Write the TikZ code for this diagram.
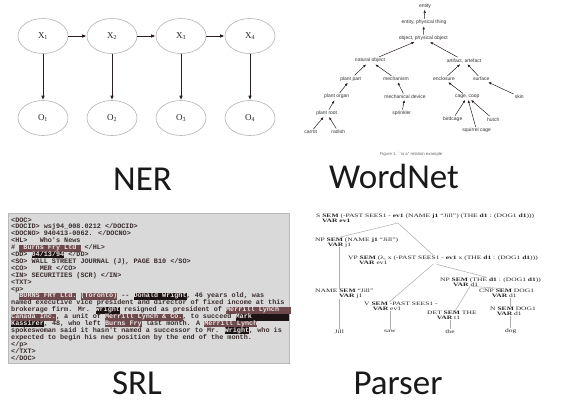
\documentclass[tikz,border=0pt]{standalone}
\usepackage{fontspec}
\setmainfont{Liberation Serif}
\newfontfamily\labfont{Carlito}
\newfontfamily\srlfont{Liberation Mono}
\newfontfamily\wnfont{Liberation Sans}
\newfontfamily\psfont[FakeStretch=1.45]{Liberation Serif}
\usetikzlibrary{shapes.geometric,arrows.meta,calc}
\definecolor{hmmgray}{HTML}{B4B4B4}
\definecolor{arrowdark}{HTML}{2B1E1E}
\definecolor{hlbrown}{HTML}{6E4A4D}
\definecolor{hlblack}{HTML}{1C1414}
\definecolor{srltext}{HTML}{3A2D2D}
\definecolor{srlbg}{HTML}{D9D9D9}
\definecolor{hltext}{HTML}{EDE3E3}
\newcommand\hb[1]{{\setlength\fboxsep{0pt}\colorbox{hlbrown}{\rule[-1.9pt]{0pt}{6.9pt}\textcolor{hltext}{#1}}}}
\newcommand\hk[1]{{\setlength\fboxsep{0pt}\colorbox{hlblack}{\rule[-1.9pt]{0pt}{6.9pt}\textcolor{hltext}{#1}}}}
\begin{document}
\begin{tikzpicture}[x=1pt,y=-1pt,
  hmmnode/.style={ellipse, draw=hmmgray, line width=0.6pt, minimum width=50pt, minimum height=35pt, inner sep=0pt, font=\fontsize{9}{10}\selectfont, text=black!85},
  hmmarrow/.style={draw=arrowdark, line width=0.9pt, -{Latex[length=4.5pt,width=3.5pt]}},
  biglabel/.style={font=\labfont\fontsize{35}{38}\selectfont, text=black!90, anchor=base, inner sep=0pt},
  wnnode/.style={font=\wnfont\fontsize{5}{6}\selectfont, text=black!80, inner sep=1.2pt},
  wnarrow/.style={draw=arrowdark, line width=0.5pt, -{Latex[length=3pt,width=2.5pt]}},
  srlline/.style={anchor=base west, inner sep=0pt, font=\srlfont\bfseries\fontsize{6.8}{6.9}\selectfont, text=srltext},
  psnode/.style={anchor=north west, inner sep=0pt, align=left, font=\psfont\fontsize{5.2}{4.9}\selectfont, text=black!85},
  psleaf/.style={inner sep=0.8pt, font=\psfont\fontsize{5.2}{4.9}\selectfont, text=black!85},
  psline/.style={draw=gray!65, line width=0.5pt}]
\useasboundingbox (0,0) rectangle (563,402);
\fill[white] (0,0) rectangle (563,402);

% ---------------- NER ----------------
\node[hmmnode] (x1) at (43,36) {X\textsubscript{1}};
\node[hmmnode] (x2) at (112,36) {X\textsubscript{2}};
\node[hmmnode] (x3) at (181,36) {X\textsubscript{3}};
\node[hmmnode] (x4) at (250,36) {X\textsubscript{4}};
\node[hmmnode] (o1) at (43,118) {O\textsubscript{1}};
\node[hmmnode] (o2) at (112,118) {O\textsubscript{2}};
\node[hmmnode] (o3) at (181,118) {O\textsubscript{3}};
\node[hmmnode] (o4) at (250,118) {O\textsubscript{4}};
\draw[hmmarrow] (x1) -- (x2);
\draw[hmmarrow] (x2) -- (x3);
\draw[hmmarrow] (x3) -- (x4);
\draw[hmmarrow] (x1) -- (o1);
\draw[hmmarrow] (x2) -- (o2);
\draw[hmmarrow] (x3) -- (o3);
\draw[hmmarrow] (x4) -- (o4);

% ---------------- WordNet ----------------
\node[wnnode] (entity) at (425,6) {entity};
\node[wnnode] (phys) at (424,22.7) {entity, physical thing};
\node[wnnode] (object) at (423.3,38.3) {object, physical object};
\node[wnnode] (natobj) at (370,60.7) {natural object};
\node[wnnode] (artifact) at (464,60.7) {artifact, artefact};
\node[wnnode] (plantpart) at (350.7,79) {plant part};
\node[wnnode] (mechanism) at (396,79) {mechanism};
\node[wnnode] (enclosure) at (444,79) {enclosure};
\node[wnnode] (surface) at (481.3,79) {surface};
\node[wnnode] (plantorgan) at (336.7,96.7) {plant organ};
\node[wnnode] (mechdev) at (405,96.7) {mechanical device};
\node[wnnode] (cage) at (467.3,96.7) {cage, coop};
\node[wnnode] (skin) at (519.3,96.7) {skin};
\node[wnnode] (plantroot) at (326.7,113.3) {plant root};
\node[wnnode] (sprinkler) at (401.7,113.3) {sprinkler};
\node[wnnode] (birdcage) at (452.7,119.3) {birdcage};
\node[wnnode] (hutch) at (493.3,119.3) {hutch};
\node[wnnode] (squirrel) at (476.7,130.7) {squirrel cage};
\node[wnnode] (carrot) at (310.7,132.3) {carrot};
\node[wnnode] (radish) at (338.3,131.7) {radish};
\node[wnnode, font=\wnfont\fontsize{4.3}{5}\selectfont, text=black!60] (caption) at (411,154) {Figure 1. ``is a'' relation example};
\draw[wnarrow] (phys) -- (entity);
\draw[wnarrow] (object) -- (phys);
\draw[wnarrow] (natobj) -- (object);
\draw[wnarrow] (artifact) -- (object);
\draw[wnarrow] (plantpart) -- (natobj);
\draw[wnarrow] (mechanism) -- (natobj);
\draw[wnarrow] (plantorgan) -- (plantpart);
\draw[wnarrow] (mechdev) -- (mechanism);
\draw[wnarrow] (plantroot) -- (plantorgan);
\draw[wnarrow] (sprinkler) -- (mechdev);
\draw[wnarrow] (carrot) -- (plantroot);
\draw[wnarrow] (radish) -- (plantroot);
\draw[wnarrow] (enclosure) -- (artifact);
\draw[wnarrow] (surface) -- (artifact);
\draw[wnarrow] (cage) -- (enclosure);
\draw[wnarrow] (skin) -- (surface);
\draw[wnarrow] (birdcage) -- (cage);
\draw[wnarrow] (squirrel) -- (cage);
\draw[wnarrow] (hutch) -- (cage);

% ---------------- SRL ----------------
\node[draw=gray!55, fill=srlbg, line width=0.5pt, minimum width=281pt, minimum height=150pt, inner sep=0pt, anchor=north west] (srlbox) at (8,213) {};
\node[srlline] (srl0) at (11,222) {<DOC>};
\node[srlline] (srl1) at (11,228.9) {<DOCID> wsj94\_008.0212 </DOCID>};
\node[srlline] (srl2) at (11,235.8) {<DOCNO> 940413-0062. </DOCNO>};
\node[srlline] (srl3) at (11,242.7) {<HL>~~~Who's News};
\node[srlline] (srl4) at (11,249.6) {\#~\hb{~Burns Fry Ltd~}~</HL>};
\node[srlline] (srl5) at (11,256.5) {<DD> \hk{04/13/94} </DD>};
\node[srlline] (srl6) at (11,263.4) {<SO> WALL STREET JOURNAL (J), PAGE B10 </SO>};
\node[srlline] (srl7) at (11,270.3) {<CO>~~~MER </CO>};
\node[srlline] (srl8) at (11,277.2) {<IN> SECURITIES (SCR) </IN>};
\node[srlline] (srl9) at (11,284.1) {<TXT>};
\node[srlline] (srl10) at (11,291) {<p>};
\node[srlline] (srl11) at (11,297.9) {~~\hb{BURNS FRY Ltd.} \hb{(Toronto)} -{}- \hk{Donald Wright}, 46 years old, was};
\node[srlline] (srl12) at (11,304.8) {named executive vice president and director of fixed income at this};
\node[srlline] (srl13) at (11,311.7) {brokerage firm. Mr. \hk{Wright} resigned as president of \hb{Merrill Lynch~~~}};
\node[srlline] (srl14) at (11,318.6) {\hb{Canada Inc.}, a unit of \hb{Merrill Lynch \& Co.}, to succeed \hk{Mark~~~~~~~~~}};
\node[srlline] (srl15) at (11,325.5) {\hk{Kassirer}, 48, who left \hb{Burns Fry} last month. A \hb{Merrill Lynch}};
\node[srlline] (srl16) at (11,332.4) {spokeswoman said it hasn't named a successor to Mr. \hk{Wright}, who is};
\node[srlline] (srl17) at (11,339.3) {expected to begin his new position by the end of the month.};
\node[srlline] (srl18) at (11,346.2) {</p>};
\node[srlline] (srl19) at (11,353.1) {</TXT>};
\node[srlline] (srl20) at (11,360) {</DOC>};

% ---------------- Parser ----------------
\node[psnode] (s) at (316,214) {S \textbf{SEM} (-PAST SEES1 - \textbf{ev1} (NAME \textbf{j1} “Jill”) (THE \textbf{d1} : (DOG1 \textbf{d1})))\\\hspace*{6pt}\textbf{VAR ev1}};
\node[psnode] (np1) at (315,237.3) {NP \textbf{SEM} (NAME \textbf{j1} “Jill”)\\\hspace*{12.7pt}\textbf{VAR} j1};
\node[psnode] (vp) at (348,255.3) {VP \textbf{SEM} (λ, x (-PAST SEES1 - \textbf{ev1} x (THE \textbf{d1} : (DOG1 \textbf{d1})))\\\hspace*{11pt}\textbf{VAR} ev1};
\node[psnode] (np2) at (440,277.3) {NP \textbf{SEM} (THE \textbf{d1} : (DOG1 \textbf{d1}))\\\hspace*{13pt}\textbf{VAR} d1};
\node[psnode] (name) at (315,288.7) {NAME \textbf{SEM} “Jill”\\\hspace*{24pt}\textbf{VAR} j1};
\node[psnode] (cnp) at (479,288.7) {CNP \textbf{SEM} DOG1\\\hspace*{12.7pt}\textbf{VAR} d1};
\node[psnode] (v) at (364,302) {V \textbf{SEM} -PAST SEES1 -\\\hspace*{8.7pt}\textbf{VAR} ev1};
\node[psnode] (det) at (427,311.3) {DET \textbf{SEM} THE\\\hspace*{9.7pt}\textbf{VAR} t1};
\node[psnode] (n) at (490,307) {N \textbf{SEM} DOG1\\\hspace*{6.7pt}\textbf{VAR} d1};
\node[psleaf] (jill) at (339.3,331.7) {Jill};
\node[psleaf] (saw) at (390,331.7) {saw};
\node[psleaf] (the) at (450,331.7) {the};
\node[psleaf] (dog) at (510.7,331.7) {dog};
\draw[psline] ([xshift=82pt]s.south west) -- ([xshift=24.3pt]np1.north west);
\draw[psline] ([xshift=82pt]s.south west) -- ([xshift=85.3pt]vp.north west);
\draw[psline] ([xshift=24.3pt]np1.south west) -- ([xshift=24.3pt]name.north west);
\draw[psline] ([xshift=85pt]vp.south west) -- ([xshift=25.3pt]v.north west);
\draw[psline] ([xshift=88.7pt]vp.south west) -- ([xshift=46.7pt]np2.north west);
\draw[psline] ([xshift=30pt]np2.south west) -- ([xshift=28pt]det.north west);
\draw[psline] ([xshift=31.7pt]np2.south west) -- ([xshift=24.3pt]cnp.north west);
\draw[psline] ([xshift=31pt]cnp.south west) -- ([xshift=20pt]n.north west);
\draw[psline] ([xshift=24.3pt]name.south west) -- (jill.north);
\draw[psline] ([xshift=26pt]v.south west) -- (saw.north);
\draw[psline] ([xshift=23pt]det.south west) -- (the.north);
\draw[psline] ([xshift=20.7pt]n.south west) -- (dog.north);

% ---------------- Labels ----------------
\node[biglabel] (ner) at (142.5,190) {NER};
\node[biglabel] (wn) at (394,188) {WordNet};
\node[biglabel] (srl) at (137,394) {SRL};
\node[biglabel] (parser) at (398,394) {Parser};
\end{tikzpicture}
\end{document}
